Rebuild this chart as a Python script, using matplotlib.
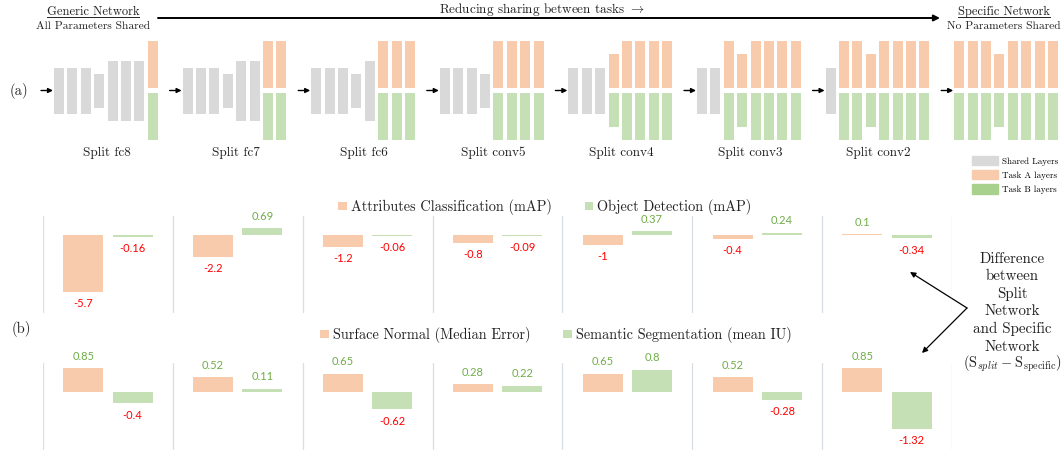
import numpy as np
import matplotlib.pyplot as plt
from matplotlib.patches import Patch

plt.rcParams['font.family'] = 'cmr10'
plt.rcParams['mathtext.fontset'] = 'cm'

# --- (a) network layouts ---
layer_names = ['conv1', 'conv2', 'conv3', 'conv4', 'conv5', 'fc6', 'fc7', 'fc8']
shared_size = [46, 46, 46, 34, 60, 60, 60, 60]   # block height when the layer is shared
task_size = [47, 47, 47, 34, 47, 47, 47, 47]     # block height inside a task branch
split_at = ['fc8', 'fc7', 'fc6', 'conv5', 'conv4', 'conv3', 'conv2', 'conv1']
split_titles = ['Split fc8', 'Split fc7', 'Split fc6', 'Split conv5',
                'Split conv4', 'Split conv3', 'Split conv2', '']

# --- (b) differences split - specific ---
attr_cls = [-5.7, -2.2, -1.2, -0.8, -1, -0.4, 0.1]
obj_det = [-0.16, 0.69, -0.06, -0.09, 0.37, 0.24, -0.34]
surf_norm = [0.85, 0.52, 0.65, 0.28, 0.65, 0.52, 0.85]
sem_seg = [-0.4, 0.11, -0.62, 0.22, 0.8, -0.28, -1.32]

GREY = '#d9d9d9'
ORANGE = '#f8cbad'
GREEN = '#c5e0b4'
GREEN_DARK = '#a9d18e'
SEP = '#d9dde4'
POS = '#70ad47'
NEG = '#ff0000'
INK = '#222222'

W, H = 1063, 450
fig = plt.figure(figsize=(W / 100, H / 100), dpi=100)

# pixel-space axes for the schematic and free text
ax0 = fig.add_axes([0, 0, 1, 1])
ax0.set_xlim(0, W)
ax0.set_ylim(H, 0)
ax0.axis('off')

pitch, bw = 13.4, 10
for k, split in enumerate(split_at):
    x0 = 54 + k * 128.6
    n_shared = layer_names.index(split)
    for j in range(len(layer_names)):
        xl = x0 + j * pitch
        if j < n_shared:
            h = shared_size[j]
            ax0.bar(xl, h, width=bw, bottom=90.5 - h / 2, align='edge', color=GREY)
        else:
            h = task_size[j]
            ax0.bar(xl, h, width=bw, bottom=88 - h, align='edge', color=ORANGE)
            ax0.bar(xl, h, width=bw, bottom=93, align='edge', color=GREEN)
    ax0.annotate('', xy=(x0 - 1, 90.5), xytext=(x0 - 13, 90.5),
                 arrowprops=dict(arrowstyle='-|>', color='black', lw=1,
                                 mutation_scale=7, shrinkA=0, shrinkB=0))
    if split_titles[k]:
        ax0.text(x0 + 53, 153, split_titles[k], ha='center', va='center', fontsize=9.5, color=INK)

ax0.text(19, 91, '(a)', ha='center', va='center', fontsize=10.5, color=INK)
ax0.text(21, 329, '(b)', ha='center', va='center', fontsize=10.5, color=INK)

# header
renderer = fig.canvas.get_renderer()
for cx, title, sub in [(93, 'Generic Network', 'All Parameters Shared'),
                       (1004, 'Specific Network', 'No Parameters Shared')]:
    t = ax0.text(cx, 11.5, title, ha='center', va='center', fontsize=9, color=INK)
    bb = t.get_window_extent(renderer=renderer)
    (xa, _), (xb, _) = ax0.transData.inverted().transform([[bb.x0, bb.y0], [bb.x1, bb.y1]])
    ax0.plot([xa, xb], [17, 17], color=INK, lw=0.7)
    ax0.text(cx, 26, sub, ha='center', va='center', fontsize=8.3, color=INK)

ax0.annotate('', xy=(940, 18), xytext=(158, 18),
             arrowprops=dict(arrowstyle='-|>', color='black', lw=1.4,
                             mutation_scale=9, shrinkA=0, shrinkB=0))
ax0.text(542, 9, r'Reducing sharing between tasks $\rightarrow$', ha='center',
         va='center', fontsize=9.5, color=INK)

# layer legend
fig.legend(handles=[Patch(color=GREY), Patch(color=ORANGE), Patch(color=GREEN_DARK)],
           labels=['Shared Layers', 'Task A layers', 'Task B layers'],
           loc='upper left', bbox_to_anchor=(972 / W, 1 - 156 / H), frameon=False,
           prop={'family': 'cmr10', 'size': 6.5}, handlelength=2.9, handleheight=1.2,
           handletextpad=0.4, labelspacing=0.5, borderpad=0, borderaxespad=0)

# annotation on the right
ax0.text(1012, 303, 'Difference\nbetween\nSplit\nNetwork\nand Specific\nNetwork',
         ha='center', va='center', fontsize=10.8, linespacing=1.33, color=INK)
ax0.text(1012, 364, r'$(\mathrm{S}_{split} - \mathrm{S}_{\mathrm{specific}})$',
         ha='center', va='center', fontsize=10.4, color=INK)
for tip in [(910, 272), (922, 353)]:
    ax0.annotate('', xy=tip, xytext=(967, 308),
                 arrowprops=dict(arrowstyle='-|>', color='black', lw=0.9,
                                 mutation_scale=8, shrinkA=0, shrinkB=0))


def draw_row(top_px, bottom_px, zero_px, px_per_unit, a_vals, b_vals, names, legend_xy):
    ax = fig.add_axes([43 / W, 1 - bottom_px / H, 909 / W, (bottom_px - top_px) / H])
    x = np.arange(len(a_vals))
    ba = ax.bar(x - 0.19, a_vals, width=0.308, color=ORANGE)
    bb_ = ax.bar(x + 0.19, b_vals, width=0.308, color=GREEN)
    ax.set_xlim(-0.5, len(a_vals) - 0.5)
    ax.set_ylim(-(bottom_px - zero_px) / px_per_unit, (zero_px - top_px) / px_per_unit)
    for s in np.arange(-0.5, len(a_vals), 1):
        ax.axvline(s, color=SEP, lw=0.9)
    for off, vals in [(-0.19, a_vals), (0.19, b_vals)]:
        for xi, v in zip(x, vals):
            ax.annotate(f'{v:g}', (xi + off, v), xytext=(0, 8.6 if v > 0 else -8.6),
                        textcoords='offset points', ha='center', va='center',
                        fontsize=8, family='Lato', color=POS if v > 0 else NEG)
    ax.axis('off')
    fig.legend([ba, bb_], names, ncol=2, loc='center',
               bbox_to_anchor=(legend_xy[0] / W, 1 - legend_xy[1] / H),
               frameon=False, prop={'family': 'cmr10', 'size': 10.3},
               handlelength=0.58, handleheight=0.58, handletextpad=0.3,
               columnspacing=2.3, borderpad=0, labelcolor=INK)


draw_row(216, 313, 235, 10, attr_cls, obj_det,
         ['Attributes Classification (mAP)', 'Object Detection (mAP)'], (545, 207))
draw_row(363, 450, 392, 28, surf_norm, sem_seg,
         ['Surface Normal (Median Error)', 'Semantic Segmentation (mean IU)'], (556, 335))

fig.savefig('out.png', dpi=100)
